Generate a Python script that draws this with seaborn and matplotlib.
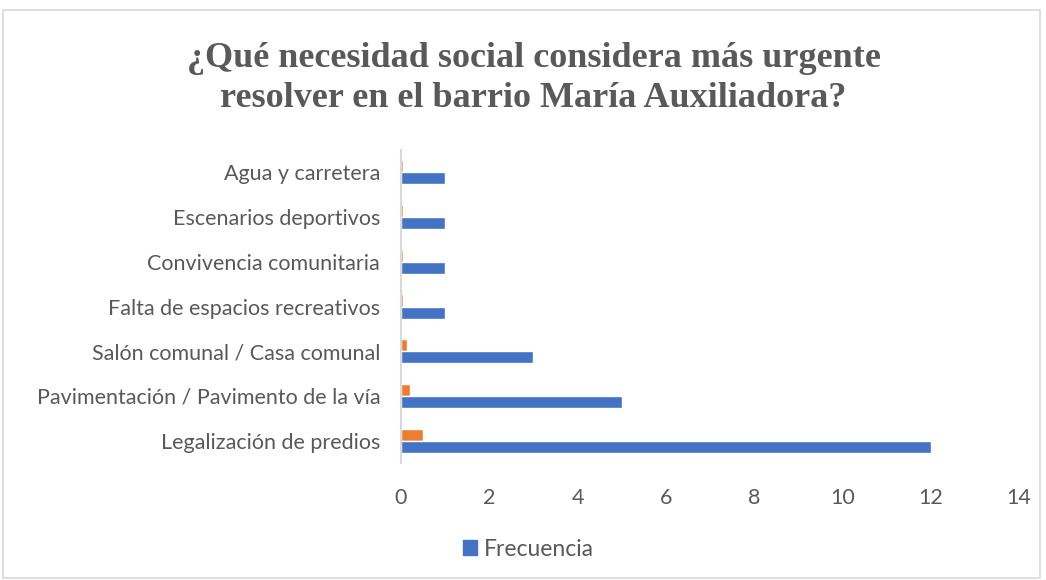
import pandas as pd
import matplotlib.pyplot as plt
import matplotlib.patches as mpatches
import seaborn as sns

# Chart data
categorias = ['Agua y carretera', 'Escenarios deportivos', 'Convivencia comunitaria',
              'Falta de espacios recreativos', 'Salón comunal / Casa comunal',
              'Pavimentación / Pavimento de la vía', 'Legalización de predios']
frecuencia = [1, 1, 1, 1, 3, 5, 12]
porcentaje = [0.04, 0.04, 0.04, 0.04, 0.125, 0.21, 0.5]

df = pd.DataFrame({
    'Necesidad': categorias * 2,
    'Valor': porcentaje + frecuencia,
    'Serie': ['Porcentaje'] * len(categorias) + ['Frecuencia'] * len(categorias),
})

sns.set_style('white')
plt.rcParams['font.family'] = ['Lato', 'DejaVu Sans']

fig = plt.figure(figsize=(10.46, 5.8), dpi=100)
ax = fig.add_axes([0.3834, 0.2017, 0.5908, 0.5397])

sns.barplot(data=df, y='Necesidad', x='Valor', hue='Serie', order=categorias,
            hue_order=['Porcentaje', 'Frecuencia'],
            palette={'Porcentaje': '#ED7D31', 'Frecuencia': '#4472C4'},
            orient='h', width=0.54, saturation=1, ax=ax)

ax.set_xlim(0, 14)
ax.set_xticks(range(0, 15, 2))
ax.set_xlabel('')
ax.set_ylabel('')
ax.tick_params(axis='both', length=0, labelsize=15.5, labelcolor='#595959')
ax.tick_params(axis='x', pad=18)
ax.tick_params(axis='y', pad=15)
for s in ['top', 'right', 'bottom']:
    ax.spines[s].set_visible(False)
ax.spines['left'].set_color('#d9d9d9')
ax.spines['left'].set_linewidth(1.5)
ax.get_legend().remove()

fig.text(0.51, 0.865, '¿Qué necesidad social considera más urgente\nresolver en el barrio María Auxiliadora?',
         ha='center', va='center', fontsize=26, fontweight='bold', color='#595959',
         family='Liberation Serif', linespacing=1.3)

handle = mpatches.Patch(color='#4472C4', label='Frecuencia')
fig.legend(handles=[handle], loc='center', bbox_to_anchor=(0.505, 0.053), frameon=False,
           fontsize=16.5, labelcolor='#595959', handlelength=0.6, handleheight=0.6,
           handletextpad=0.3)

# chart border
fig.patches.append(mpatches.Rectangle((3 / 1046, 0.003), 1037 / 1046, 0.98, transform=fig.transFigure,
                                      fill=False, edgecolor='#d9d9d9', linewidth=1.2))

fig.savefig('out.png', dpi=100)
